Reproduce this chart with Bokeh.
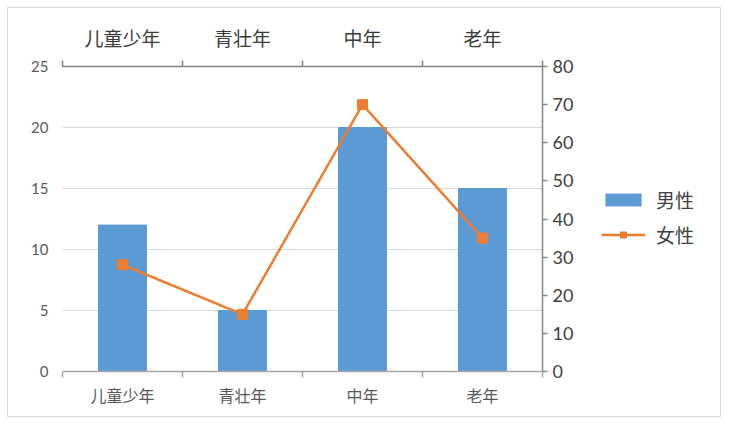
from bokeh.plotting import figure
from bokeh.layouts import row
from bokeh.models import (Range1d, LinearAxis, FixedTicker, Legend, LegendItem, Grid)
from bokeh.embed import file_html
from bokeh.resources import INLINE

categories = ["儿童少年", "青壮年", "中年", "老年"]
male = [12, 5, 20, 15]
female = [28, 15, 70, 35]
left_ticks = [0, 5, 10, 15, 20, 25]
right_ticks = [0, 10, 20, 30, 40, 50, 60, 70, 80]

n = len(categories)
xc = [i + 0.5 for i in range(n)]
bounds = [float(i) for i in range(n + 1)]
overrides = {xc[i]: categories[i] for i in range(n)}

CJK = "Noto Sans CJK SC"
NUM = "Lato"
BLUE = "#5B9BD5"
ORANGE = "#ED7D31"

p = figure(frame_width=480, frame_height=305, x_range=Range1d(0, n), y_range=Range1d(0, 25),
           output_backend="svg", toolbar_location=None,
           x_axis_location=None, y_axis_location=None)
p.extra_y_ranges = {"right": Range1d(0, 80)}
p.min_border_left = 54
p.min_border_right = 40
p.min_border_top = 58
p.min_border_bottom = 45
p.outline_line_color = None

for g in p.grid:
    g.visible = False
p.add_layout(Grid(dimension=1, ticker=FixedTicker(ticks=left_ticks[1:-1]),
                  grid_line_color="#d9d9d9", grid_line_width=1.2))

# left axis (labels only)
la = LinearAxis(ticker=FixedTicker(ticks=left_ticks))
la.axis_line_color = None
la.major_tick_line_color = None
la.minor_tick_line_color = None
la.major_label_text_font = NUM
la.major_label_text_font_size = "15px"
la.major_label_text_color = "#595959"
la.major_label_standoff = 8
p.add_layout(la, "left")

# right axis
ra = LinearAxis(y_range_name="right", ticker=FixedTicker(ticks=right_ticks))
ra.axis_line_color = "#868686"
ra.axis_line_width = 1.5
ra.major_tick_line_color = "#868686"
ra.major_tick_line_width = 1.5
ra.major_tick_in = 0
ra.major_tick_out = 5
ra.minor_tick_line_color = None
ra.major_label_text_font = NUM
ra.major_label_text_font_size = "18px"
ra.major_label_text_color = "#404040"
ra.major_label_standoff = 5
p.add_layout(ra, "right")

def cat_axis(loc, color, size, line_color, standoff):
    ax = LinearAxis(ticker=FixedTicker(ticks=xc, minor_ticks=bounds),
                    major_label_overrides=overrides)
    ax.axis_line_color = line_color
    ax.axis_line_width = 1.5
    ax.major_tick_line_color = None
    ax.major_tick_in = 0
    ax.major_tick_out = 0
    ax.minor_tick_line_color = line_color
    ax.minor_tick_line_width = 1.5
    ax.minor_tick_in = 0
    ax.minor_tick_out = 6
    ax.major_label_text_font = CJK
    ax.major_label_text_font_size = size
    ax.major_label_text_color = color
    ax.major_label_standoff = standoff
    p.add_layout(ax, loc)
    return ax

cat_axis("below", "#595959", "16px", "#a6a6a6", 5)
cat_axis("above", "#3a3a3a", "19px", "#7f7f7f", 10)

p.vbar(x=xc, top=male, width=0.4, color=BLUE)
p.line(xc, female, y_range_name="right", line_color=ORANGE, line_width=2.5)
p.scatter(xc, female, y_range_name="right", marker="square", size=10, color=ORANGE)

# legend panel (separate figure so the legend is not clipped by the chart frame)
lg = figure(width=138, height=408, x_range=Range1d(0, 1), y_range=Range1d(0, 1),
            output_backend="svg", toolbar_location=None,
            x_axis_location=None, y_axis_location=None)
lg.min_border = 0
lg.outline_line_color = None
for g in lg.grid:
    g.visible = False
lb = lg.vbar(x=xc, top=male, width=0.4, color=BLUE, visible=False)
ll = lg.line(xc, female, line_color=ORANGE, line_width=2.5, visible=False)
ls = lg.scatter(xc, female, marker="square", size=12, color=ORANGE, visible=False)

legend = Legend(items=[LegendItem(label="男性", renderers=[lb]),
                       LegendItem(label="女性", renderers=[ll, ls])],
                location=(19, 123))
legend.border_line_color = None
legend.background_fill_alpha = 0
legend.inactive_fill_alpha = 0
legend.glyph_width = 44
legend.glyph_height = 15
legend.label_text_font = CJK
legend.label_text_font_size = "19px"
legend.label_text_color = "#404040"
legend.label_standoff = 11
legend.spacing = 8
legend.padding = 4
legend.margin = 0
lg.add_layout(legend)

layout = row(p, lg)
layout.margin = (8, 9, 8, 8)
layout.styles = {"outline": "1px solid #d9d9d9"}

open("out.html", "w").write(file_html(layout, INLINE))
